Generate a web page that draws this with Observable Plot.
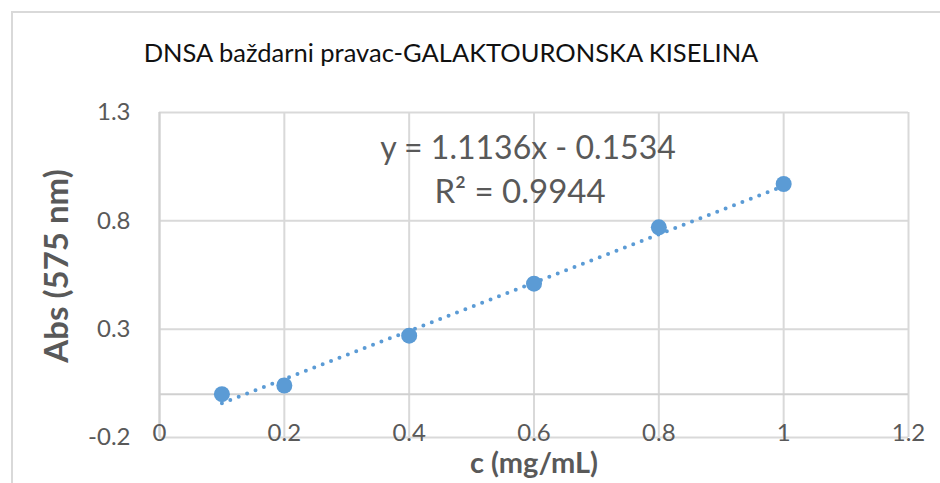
<!DOCTYPE html>
<html>
<head>
<meta charset="utf-8">
<script src="https://cdn.jsdelivr.net/npm/d3@7"></script>
<script src="https://cdn.jsdelivr.net/npm/@observablehq/plot@0.6"></script>
<style>
  body { margin: 0; background: #fff; }
  #wrap { position: relative; width: 940px; height: 483px; overflow: hidden; }
  #border { position: absolute; left: 11px; top: 11px; width: 940px; height: 483px;
            border-top: 2px solid #d9d9d9; border-left: 2px solid #d9d9d9; }
  #chart { position: absolute; left: 0; top: 0; }
</style>
</head>
<body>
<div id="wrap"><div id="border"></div><div id="chart"></div></div>
<script>
const concentration = [0.1, 0.2, 0.4, 0.6, 0.8, 1.0];
const absorbance = [0.0, 0.04, 0.27, 0.51, 0.77, 0.97];
const xTicks = [0, 0.2, 0.4, 0.6, 0.8, 1, 1.2];
const yTicks = [-0.2, 0.3, 0.8, 1.3];
const slope = 1.1136;
const intercept = -0.1534;
const trendRange = [0.1, 1.0];
const titleText = ["DNSA baždarni pravac-GALAKTOURONSKA KISELINA"];
const equationText = ["y = 1.1136x - 0.1534"];
const r2Text = ["R² = 0.9944"];
const yLabel = ["Abs (575 nm)"];
const xLabel = ["c (mg/mL)"];

const points = concentration.map((c, i) => ({c, a: absorbance[i]}));
const trend = trendRange.map(c => ({c, a: slope * c + intercept}));
const blue = "#5B9BD5";
const grey = "#595959";
const font = "Lato, 'Open Sans', sans-serif";

const chart = Plot.plot({
  width: 940,
  height: 483,
  marginLeft: 159,
  marginRight: 32,
  marginTop: 112,
  marginBottom: 46,
  style: {fontFamily: font, background: "transparent", overflow: "visible"},
  x: {domain: [0, 1.2]},
  y: {domain: [-0.2, 1.3]},
  marks: [
    Plot.gridX(xTicks, {stroke: "#d9d9d9", strokeOpacity: 1, strokeWidth: 2}),
    Plot.gridY(yTicks, {stroke: "#d9d9d9", strokeOpacity: 1, strokeWidth: 2}),
    Plot.ruleY([0], {stroke: "#d0d0d0", strokeWidth: 2}),
    Plot.ruleX([0], {stroke: "#d0d0d0", strokeWidth: 2}),
    Plot.axisX({ticks: xTicks, tickSize: 0, tickPadding: -14, fontSize: 24, fill: grey,
                tickFormat: d => String(d), label: null}),
    Plot.axisY({ticks: yTicks, tickSize: 0, tickPadding: 29, fontSize: 24, fill: grey,
                tickFormat: d => String(d), label: null}),
    Plot.line(trend, {x: "c", y: "a", stroke: blue, strokeWidth: 4,
                      strokeDasharray: "0 9", strokeLinecap: "round"}),
    Plot.dot(points, {x: "c", y: "a", r: 8, fill: blue, stroke: "none"}),
    Plot.text(titleText, {text: d => d, frameAnchor: "top", dx: -83, dy: -59,
                          fontSize: 25.5, fill: "#111", lineAnchor: "middle"}),
    Plot.text(equationText, {text: d => d, frameAnchor: "top", dx: -6, dy: 36,
                             fontSize: 32, fill: grey, lineAnchor: "middle"}),
    Plot.text(r2Text, {text: d => d, frameAnchor: "top", dx: -14, dy: 80,
                       fontSize: 33, fill: grey, lineAnchor: "middle"}),
    Plot.text(yLabel, {text: d => d, frameAnchor: "left", textAnchor: "middle", dx: -102, dy: -9,
                       rotate: -90, fontSize: 33, fontWeight: "bold", fill: grey, lineAnchor: "middle"}),
    Plot.text(xLabel, {text: d => d, frameAnchor: "bottom", textAnchor: "middle", dx: 0, dy: 26,
                       fontSize: 29, fontWeight: "bold", fill: grey, lineAnchor: "middle"})
  ]
});
document.getElementById("chart").appendChild(chart);
</script>
</body>
</html>
